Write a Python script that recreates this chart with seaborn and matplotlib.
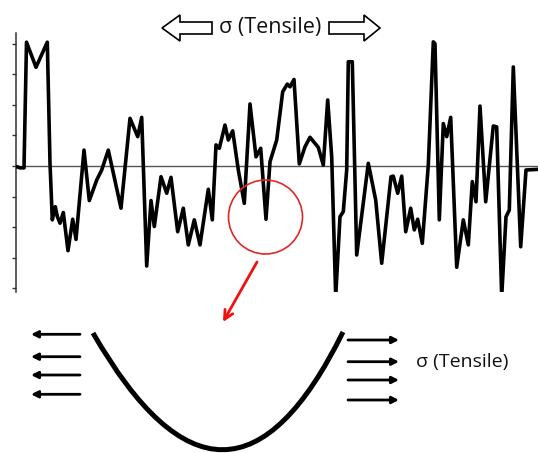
import matplotlib
matplotlib.use("Agg")
import matplotlib.pyplot as plt
import matplotlib.patches as mpatches
from matplotlib.path import Path
import seaborn as sns

# Профиль остаточных напряжений (позиция вдоль поверхности, напряжение в условных единицах)
position = [0.5, 4, 8, 10.5, 20, 31.3, 34, 36.3, 39.3, 41.3, 44, 47.3, 52, 56.7, 60,
            68, 73.3, 80.7, 85.7, 92.3, 105, 114, 121.7, 125.7, 130.7, 135, 138.3,
            145, 150.7, 155, 161.7, 167.3, 172.3, 178.3, 184, 192.3, 196.3, 200,
            203.3, 209, 212.3, 216.7, 222.3, 228.3, 234, 240, 244.7, 250, 254,
            260.7, 266.7, 271.3, 274, 278, 283.3, 289, 294, 299, 302.3, 307.3,
            311.7, 315.7, 319.7, 324, 327.3, 330.7, 332.3, 336.3, 340.7, 352.3,
            359.7, 365.7, 375, 377.3, 381.7, 385.7, 389.7, 394.7, 398.3, 401.7,
            406.3, 412.3, 417.3, 419, 423.3, 427.3, 430.7, 434.7, 440.7, 447.3,
            452.3, 456.3, 460, 464, 469.7, 477.3, 480.7, 485.7, 490, 493.3, 497.3,
            504.7, 510, 522]
stress = [-0.02, -0.06, -0.06, 4.05, 3.23, 4.05, 0.1, -1.76, -1.33, -1.65, -1.87, -1.52,
          -2.77, -1.74, -2.4, 0.52, -1.13, -0.46, -0.13, 0.52, -1.38, 1.56, 0.96, 1.59,
          -3.27, -1.13, -1.98, -0.35, -0.89, -0.37, -2.15, -1.38, -2.58, -1.76, -2.58,
          -0.76, -1.76, 0.69, 0.58, 1.34, 0.85, 1.15, -0.13, -1.22, 2.03, 0.3, 0.58,
          -1.74, 0.14, 0.85, 2.43, 2.68, 2.59, 2.83, 0.07, 0.63, 0.94, 0.74, 0.61,
          0.03, 2.16, 0.3, -4.27, -1.66, -1.49, -0.13, 3.41, 3.41, -2.91, 0.09, -1.11,
          -3.18, -0.35, -0.33, -0.89, -0.33, -2.15, -1.38, -2.09, -1.74, -2.53, 0.03,
          4.06, 4.0, -1.76, 1.39, 0.96, 1.59, -3.31, -1.76, -2.58, -0.51, -1.17, 1.96,
          -1.17, 1.31, 1.28, -4.27, -1.66, -1.44, 3.24, -2.64, -0.13, -0.11]
y_ticks = [-4, -3, -2, -1, 0, 1, 2, 3, 4]
label = "σ (Tensile)"

sns.set_style("white")
plt.rcParams['font.family'] = ['Open Sans', 'DejaVu Sans']

W, H = 538, 453
fig = plt.figure(figsize=(W / 100, H / 100), dpi=100)

# основной график профиля
ax = fig.add_axes([16 / W, (H - 292) / H, 522 / W, 259 / H])
ax.axhline(0, color='#555555', lw=1.0, zorder=1)
sns.lineplot(x=position, y=stress, ax=ax, color='black', lw=2.6,
             sort=False, estimator=None, zorder=3,
             solid_joinstyle='round', solid_capstyle='round')
ax.set_xlim(0, 522)
ax.set_ylim(-4.12, 4.35)
ax.set_yticks(y_ticks)
ax.set_yticklabels([])
ax.set_xticks([])
ax.set_xlabel('')
ax.set_ylabel('')
for side in ['top', 'right', 'bottom']:
    ax.spines[side].set_visible(False)
ax.spines['left'].set_color('#333333')
ax.spines['left'].set_linewidth(1.1)
ax.tick_params(axis='y', left=True, direction='out', length=3, width=1, color='#333333')
ax.patch.set_alpha(0)

# слой для поясняющих элементов (координаты в пикселях)
ov = fig.add_axes([0, 0, 1, 1])
ov.set_xlim(0, W)
ov.set_ylim(H, 0)
ov.axis('off')
ov.patch.set_alpha(0)

# верхняя подпись с полыми стрелками
ov.add_patch(mpatches.FancyArrow(212, 28, -50, 0, width=12, head_width=26, head_length=18,
                                 length_includes_head=True, fc='white', ec='black', lw=1.2))
ov.add_patch(mpatches.FancyArrow(329, 28, 51, 0, width=12, head_width=26, head_length=16,
                                 length_includes_head=True, fc='white', ec='black', lw=1.2))
ov.text(270, 28, label, fontsize=15.5, ha='center', va='center', color='#111111')

# красный круг и стрелка
ov.add_patch(mpatches.Ellipse((265.5, 217), 74, 74, fill=False, ec='#e02828', lw=1.2))
ov.annotate('', xy=(223, 322), xytext=(257, 262),
            arrowprops=dict(arrowstyle='->', color='#f01010', lw=2, mutation_scale=16,
                            shrinkA=0, shrinkB=0))

# схема поверхности (парабола)
verts = [(93, 333), (227.5, 567), (343, 332)]
bowl = Path(verts, [Path.MOVETO, Path.CURVE3, Path.CURVE3])
ov.add_patch(mpatches.PathPatch(bowl, fill=False, ec='black', lw=3.6, capstyle='butt'))

# стрелки растяжения
for y in [334.3, 356.7, 375, 394.3]:
    ov.annotate('', xy=(31, y), xytext=(80, y),
                arrowprops=dict(arrowstyle='-|>', color='black', lw=2, mutation_scale=10,
                                shrinkA=0, shrinkB=0))
for y in [340, 361.7, 380, 400]:
    ov.annotate('', xy=(399, y), xytext=(348, y),
                arrowprops=dict(arrowstyle='-|>', color='black', lw=2, mutation_scale=10,
                                shrinkA=0, shrinkB=0))
ov.text(462, 362, label, fontsize=14, ha='center', va='center', color='#111111')

fig.savefig('out.png', dpi=100)
